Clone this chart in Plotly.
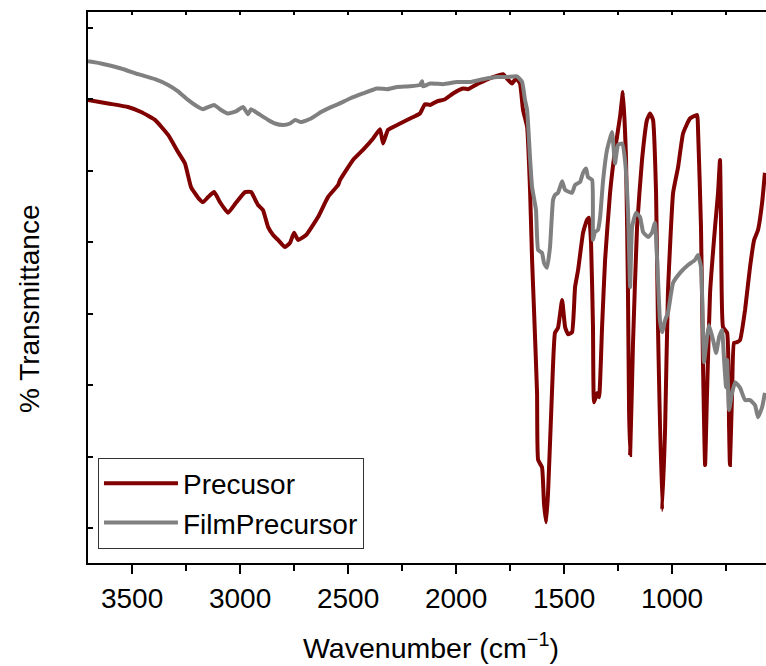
import plotly.graph_objects as go

# Precusor spectrum (wavenumber cm^-1, % transmittance)
precursor_wn = [3704, 3611, 3519, 3458, 3394, 3333, 3287, 3255, 3227, 3194, 3171, 3148, 3120, 3093, 3056,
                3019, 2977, 2949, 2917, 2894, 2870, 2847, 2824, 2792, 2769, 2750, 2731, 2694, 2639, 2593,
                2546, 2537, 2477, 2431, 2384, 2352, 2338, 2315, 2259, 2199, 2167, 2144, 2120, 2088, 2051,
                2014, 1968, 1944, 1903, 1875, 1829, 1782, 1759, 1741, 1722, 1704, 1690, 1671, 1657, 1648,
                1639, 1625, 1620, 1602, 1593, 1583, 1574, 1556, 1542, 1528, 1509, 1495, 1481, 1463, 1449,
                1435, 1412, 1394, 1384, 1375, 1366, 1361, 1347, 1338, 1324, 1310, 1287, 1264, 1241, 1227,
                1213, 1204, 1199, 1194, 1181, 1162, 1139, 1116, 1102, 1088, 1074, 1065, 1046, 1032, 1019,
                995, 972, 949, 917, 884, 880, 866, 857, 847, 838, 824, 801, 787, 778, 773,
                764, 745, 736, 732, 722, 713, 699, 685, 662, 639, 620, 602, 583, 570]
precursor_t = [69.9, 69.4, 68.9, 68.2, 67.1, 65.0, 62.6, 61.0, 57.7, 56.2, 55.6, 56.3, 57.0, 55.6, 54.1,
               55.5, 57.0, 57.0, 55.2, 54.5, 52.1, 51.0, 50.3, 49.3, 49.9, 51.3, 50.3, 51.0, 53.5, 56.3,
               58.0, 58.7, 61.5, 62.9, 64.5, 65.8, 63.8, 65.7, 66.6, 67.5, 68.0, 69.3, 69.2, 69.7, 70.0,
               70.8, 71.5, 71.4, 72.1, 72.5, 73.1, 73.5, 72.7, 72.2, 72.9, 72.2, 68.5, 66.1, 56.9, 47.5,
               40.5, 28.9, 19.5, 18.5, 13.5, 10.8, 14.9, 28.9, 37.3, 38.0, 41.9, 38.1, 37.1, 37.4, 43.7,
               46.1, 51.3, 53.1, 53.4, 49.9, 38.1, 27.6, 28.9, 28.3, 38.1, 47.5, 56.9, 62.9, 67.5, 71.0,
               61.5, 42.9, 26.5, 20.2, 35.6, 52.1, 61.5, 67.1, 68.0, 67.1, 56.9, 38.1, 12.5, 24.1, 42.9,
               56.9, 60.5, 65.2, 67.3, 67.8, 66.1, 52.1, 33.5, 18.8, 28.9, 42.9, 52.1, 56.9, 61.5, 52.1,
               38.1, 37.3, 24.1, 18.8, 28.9, 35.9, 36.0, 36.3, 40.5, 46.5, 50.3, 51.7, 55.5, 59.7]

# FilmPrecursor spectrum
film_wn = [3704, 3644, 3551, 3472, 3394, 3333, 3287, 3241, 3194, 3171, 3148, 3120, 3093, 3056, 3019,
           2986, 2963, 2949, 2917, 2870, 2838, 2801, 2769, 2745, 2718, 2671, 2625, 2579, 2546, 2491,
           2431, 2366, 2319, 2273, 2213, 2167, 2157, 2153, 2120, 2060, 1995, 1935, 1875, 1810, 1764,
           1718, 1694, 1681, 1671, 1657, 1648, 1630, 1620, 1602, 1593, 1579, 1565, 1551, 1542, 1528,
           1509, 1495, 1463, 1449, 1426, 1412, 1398, 1389, 1370, 1366, 1357, 1343, 1333, 1319, 1301,
           1278, 1264, 1250, 1231, 1218, 1204, 1194, 1185, 1167, 1148, 1134, 1111, 1093, 1079, 1069,
           1056, 1046, 1032, 1019, 995, 963, 926, 894, 880, 866, 857, 852, 838, 829, 810,
           796, 782, 769, 759, 750, 745, 736, 722, 708, 685, 662, 639, 616, 602, 583, 570]
film_t = [75.3, 75.0, 74.3, 73.5, 72.8, 72.0, 71.1, 69.9, 68.9, 68.6, 68.9, 69.2, 68.6, 68.0, 68.3,
          68.9, 67.9, 68.6, 68.0, 67.1, 66.6, 66.4, 66.6, 67.1, 66.8, 67.3, 68.2, 68.9, 69.3, 70.1,
          70.8, 71.5, 71.4, 71.7, 71.8, 72.0, 72.5, 71.8, 72.2, 72.1, 72.4, 72.4, 72.8, 73.1, 73.1,
          73.2, 72.4, 69.9, 68.5, 61.5, 57.7, 54.5, 48.9, 48.5, 47.1, 46.4, 49.3, 55.9, 56.6, 56.9,
          58.5, 57.3, 56.9, 58.0, 58.4, 59.7, 60.3, 59.1, 58.7, 50.3, 51.4, 51.7, 53.5, 58.7, 62.9,
          65.4, 61.0, 63.6, 63.8, 61.5, 54.5, 43.7, 52.1, 54.1, 53.5, 51.4, 50.7, 51.3, 52.7, 47.5,
          39.1, 37.4, 39.1, 40.1, 44.3, 45.7, 46.8, 47.5, 48.2, 46.5, 38.1, 33.2, 36.7, 38.4, 36.3,
          34.5, 36.7, 37.7, 33.5, 29.7, 33.5, 26.5, 28.9, 30.4, 29.6, 27.9, 27.9, 27.2, 25.5, 26.9, 28.9]

x_tick_vals = [3500, 3000, 2500, 2000, 1500, 1000]
x_tick_text = ["3500", "3000", "2500", "2000", "1500", "1000"]
x_title = "Wavenumber (cm<sup>\u22121</sup>)"
y_title = "% Transmittance"

FONT = "Arial, Liberation Sans, Helvetica, sans-serif"
X_RANGE = [3704, 565]

fig = go.Figure()
fig.add_trace(go.Scatter(x=precursor_wn, y=precursor_t, mode="lines", name="Precusor",
                         line=dict(color="#800000", width=4, shape="spline", smoothing=0.4)))
fig.add_trace(go.Scatter(x=film_wn, y=film_t, mode="lines", name="FilmPrecursor",
                         line=dict(color="#808080", width=4, shape="spline", smoothing=0.4)))
# helper (invisible) trace so the top frame axis is drawn
fig.add_trace(go.Scatter(x=[3000], y=[50], xaxis="x2", mode="lines", showlegend=False,
                         hoverinfo="skip", line=dict(width=0)))

fig.update_layout(
    width=766, height=666,
    margin=dict(l=88, r=0, t=12, b=103),
    paper_bgcolor="white", plot_bgcolor="white",
    font=dict(family=FONT, size=28, color="black"),
    showlegend=True,
    legend=dict(x=0.0147, y=0.0263, xanchor="left", yanchor="bottom",
                bordercolor="#333333", borderwidth=1, bgcolor="white",
                font=dict(size=28, family=FONT), itemwidth=74,
                tracegroupgap=0),
    xaxis2=dict(overlaying="x", side="top", range=X_RANGE,
                tick0=3500, dtick=250, showticklabels=False,
                showline=True, linecolor="black", linewidth=2,
                ticks="inside", ticklen=3, tickwidth=1.5, tickcolor="black",
                showgrid=False, zeroline=False),
    annotations=[
        dict(text=x_title, xref="paper", yref="paper", x=0.506, y=-0.150,
             xanchor="center", yanchor="middle", showarrow=False,
             font=dict(size=28.5, family=FONT)),
        dict(text=y_title, xref="paper", yref="paper", x=-0.0855, y=0.461,
             xanchor="center", yanchor="middle", showarrow=False, textangle=-90,
             font=dict(size=28, family=FONT)),
    ],
)
fig.update_layout(xaxis=dict(
    range=X_RANGE, tickvals=x_tick_vals, ticktext=x_tick_text,
    showline=True, linecolor="black", linewidth=2, mirror=False,
    ticks="outside", ticklen=9, tickwidth=2, tickcolor="black",
    minor=dict(dtick=250, tick0=3250, ticks="outside", ticklen=6, tickwidth=2, tickcolor="black"),
    showgrid=False, zeroline=False,
    tickfont=dict(size=28, family=FONT),
    automargin=False,
))
fig.update_yaxes(
    range=[5.1, 82.2], tick0=10, dtick=10, showticklabels=False,
    showline=True, linecolor="black", linewidth=2, mirror=False,
    ticks="inside", ticklen=5, tickwidth=2, tickcolor="black",
    showgrid=False, zeroline=False,
    automargin=False,
)

fig.write_html("out.html")
